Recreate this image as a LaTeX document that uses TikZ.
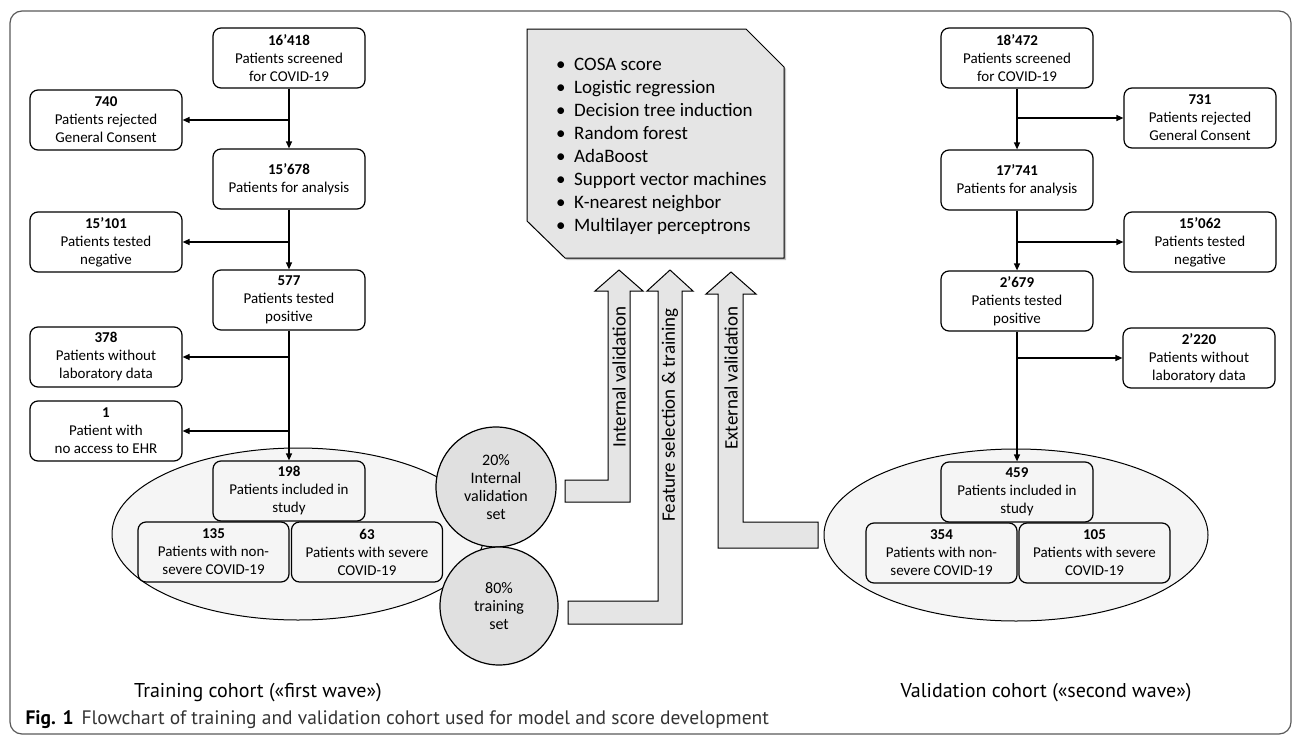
\documentclass[tikz,border=0pt]{standalone}
\usepackage{fontspec}
\setmainfont{Carlito}
\newfontfamily\captionfont{PT Sans}
\usetikzlibrary{positioning,arrows.meta,shapes.geometric,shadows}

\begin{document}
\begin{tikzpicture}[
    x=1pt, y=-1pt,
    box/.style={
        rectangle,
        rounded corners=8pt,
        draw=black,
        line width=1.2pt,
        align=center,
        minimum width=152pt,
        minimum height=60pt,
        inner sep=2pt,
        font=\fontsize{15}{18}\selectfont
    },
    inbox/.style={box, fill=black!4},
    cohortell/.style={ellipse, draw=black, line width=1pt, fill=black!4, inner sep=0pt},
    setcircle/.style={circle, draw=black, line width=1.2pt, fill=black!12, minimum size=120pt,
        align=center, inner sep=0pt, font=\fontsize{16}{18}\selectfont},
    arrow/.style={-{Triangle[length=7pt,width=6pt]}, line width=1.2pt, black},
    bigarrow/.style={draw=black, line width=1pt, fill=black!10},
    vlabel/.style={rotate=90, font=\fontsize{19}{20}\selectfont},
    cohort/.style={font=\captionfont\fontsize{20}{22}\selectfont}
]
\useasboundingbox (0,0) rectangle (1293,736);
\draw[black!65, line width=1.2pt, rounded corners=12pt] (10,11) rectangle (1291,734);

% training cohort
\node[box] (n1) at (289,58) {\textbf{16’418}\\Patients screened\\for COVID-19};
\node[box] (r1) at (106,120) {\textbf{740}\\Patients rejected\\General Consent};
\node[box] (n2) at (289,179) {\textbf{15’678}\\Patients for analysis};
\node[box] (r2) at (106,242) {\textbf{15’101}\\Patients tested\\negative};
\node[box] (n3) at (289,300) {\textbf{577}\\Patients tested\\positive};
\node[box] (r3) at (106,357) {\textbf{378}\\Patients without\\laboratory data};
\node[box] (r4) at (106,431) {\textbf{1}\\Patient with\\no access to EHR};
\node[cohortell, minimum width=372pt, minimum height=172pt] (e1) at (298,534) {};
\node[inbox] (n4) at (289,491) {\textbf{198}\\Patients included in\\study};
\node[inbox, minimum width=151pt] (n5) at (213.5,552) {\textbf{135}\\Patients with non-\\severe COVID-19};
\node[inbox, minimum width=151pt] (n6) at (367,552) {\textbf{63}\\Patients with severe\\COVID-19};

\draw[arrow] (n1) -- (n2);
\draw[arrow] (r1.east -| n1) -- (r1.east);
\draw[arrow] (n2) -- (n3);
\draw[arrow] (r2.east -| n2) -- (r2.east);
\draw[arrow] (n3) -- (n4);
\draw[arrow] (r3.east -| n3) -- (r3.east);
\draw[arrow] (r4.east -| n3) -- (r4.east);

\node[setcircle] (c20) at (496,487) {20\%\\Internal\\validation\\set};
\node[setcircle, minimum size=118pt] (c80) at (499,606) {80\%\\training\\set};

% validation cohort
\node[box] (m1) at (1017,58) {\textbf{18’472}\\Patients screened\\for COVID-19};
\node[box] (s1) at (1200,118) {\textbf{731}\\Patients rejected\\General Consent};
\node[box] (m2) at (1017,180) {\textbf{17’741}\\Patients for analysis};
\node[box] (s2) at (1200,242) {\textbf{15’062}\\Patients tested\\negative};
\node[box] (m3) at (1017,301) {\textbf{2’679}\\Patients tested\\positive};
\node[box] (s3) at (1199,358) {\textbf{2’220}\\Patients without\\laboratory data};
\node[cohortell, minimum width=384pt, minimum height=172pt] (e2) at (1016,535) {};
\node[inbox] (m4) at (1017,492) {\textbf{459}\\Patients included in\\study};
\node[inbox, minimum width=151pt] (m5) at (941.5,553) {\textbf{354}\\Patients with non-\\severe COVID-19};
\node[inbox, minimum width=151pt] (m6) at (1094.5,553) {\textbf{105}\\Patients with severe\\COVID-19};

\draw[arrow] (m1) -- (m2);
\draw[arrow] (s1.west -| m1) -- (s1.west);
\draw[arrow] (m2) -- (m3);
\draw[arrow] (s2.west -| m2) -- (s2.west);
\draw[arrow] (m3) -- (m4);
\draw[arrow] (s3.west -| m3) -- (s3.west);

% models
\draw[bigarrow, drop shadow={shadow xshift=2pt, shadow yshift=-2pt, fill=black!45}]
    (527,29) -- (746,29) -- (784,67) -- (784,258) -- (565,258) -- (527,221) -- cycle;
\node[anchor=west, align=left, inner sep=0pt, font=\fontsize{19}{23}\selectfont] (models) at (556,146) {%
    \makebox[18pt][l]{\textbullet}COSA score\\
    \makebox[18pt][l]{\textbullet}Logistic regression\\
    \makebox[18pt][l]{\textbullet}Decision tree induction\\
    \makebox[18pt][l]{\textbullet}Random forest\\
    \makebox[18pt][l]{\textbullet}AdaBoost\\
    \makebox[18pt][l]{\textbullet}Support vector machines\\
    \makebox[18pt][l]{\textbullet}K-nearest neighbor\\
    \makebox[18pt][l]{\textbullet}Multilayer perceptrons};

\draw[bigarrow] (565,480) -- (608,480) -- (608,291) -- (595,291) -- (619,270)
    -- (643,291) -- (630,291) -- (630,502) -- (565,502) -- cycle;
\draw[bigarrow] (568,601) -- (658,601) -- (658,291) -- (647,291) -- (670,270)
    -- (693,291) -- (682,291) -- (682,624) -- (568,624) -- cycle;
\draw[bigarrow] (818,522) -- (743,522) -- (743,294) -- (756,294) -- (731,272)
    -- (706,294) -- (718,294) -- (718,548) -- (818,548) -- cycle;
\node[vlabel] (iv) at (619,377) {Internal validation};
\node[vlabel] (fs) at (670,415) {Feature selection \& training};
\node[vlabel] (ev) at (731,378) {External validation};

\node[cohort, anchor=base] (t1) at (258,697) {Training cohort («first wave»)};
\node[cohort, anchor=base] (t2) at (1046,697) {Validation cohort («second wave»)};
\node[anchor=base west, font=\captionfont\fontsize{19.5}{21}\selectfont] (cap) at (22,724)
    {\textbf{Fig. 1}\hspace{8pt}{\color{black!80}Flowchart of training and validation cohort used for model and score development}};
\end{tikzpicture}
\end{document}
